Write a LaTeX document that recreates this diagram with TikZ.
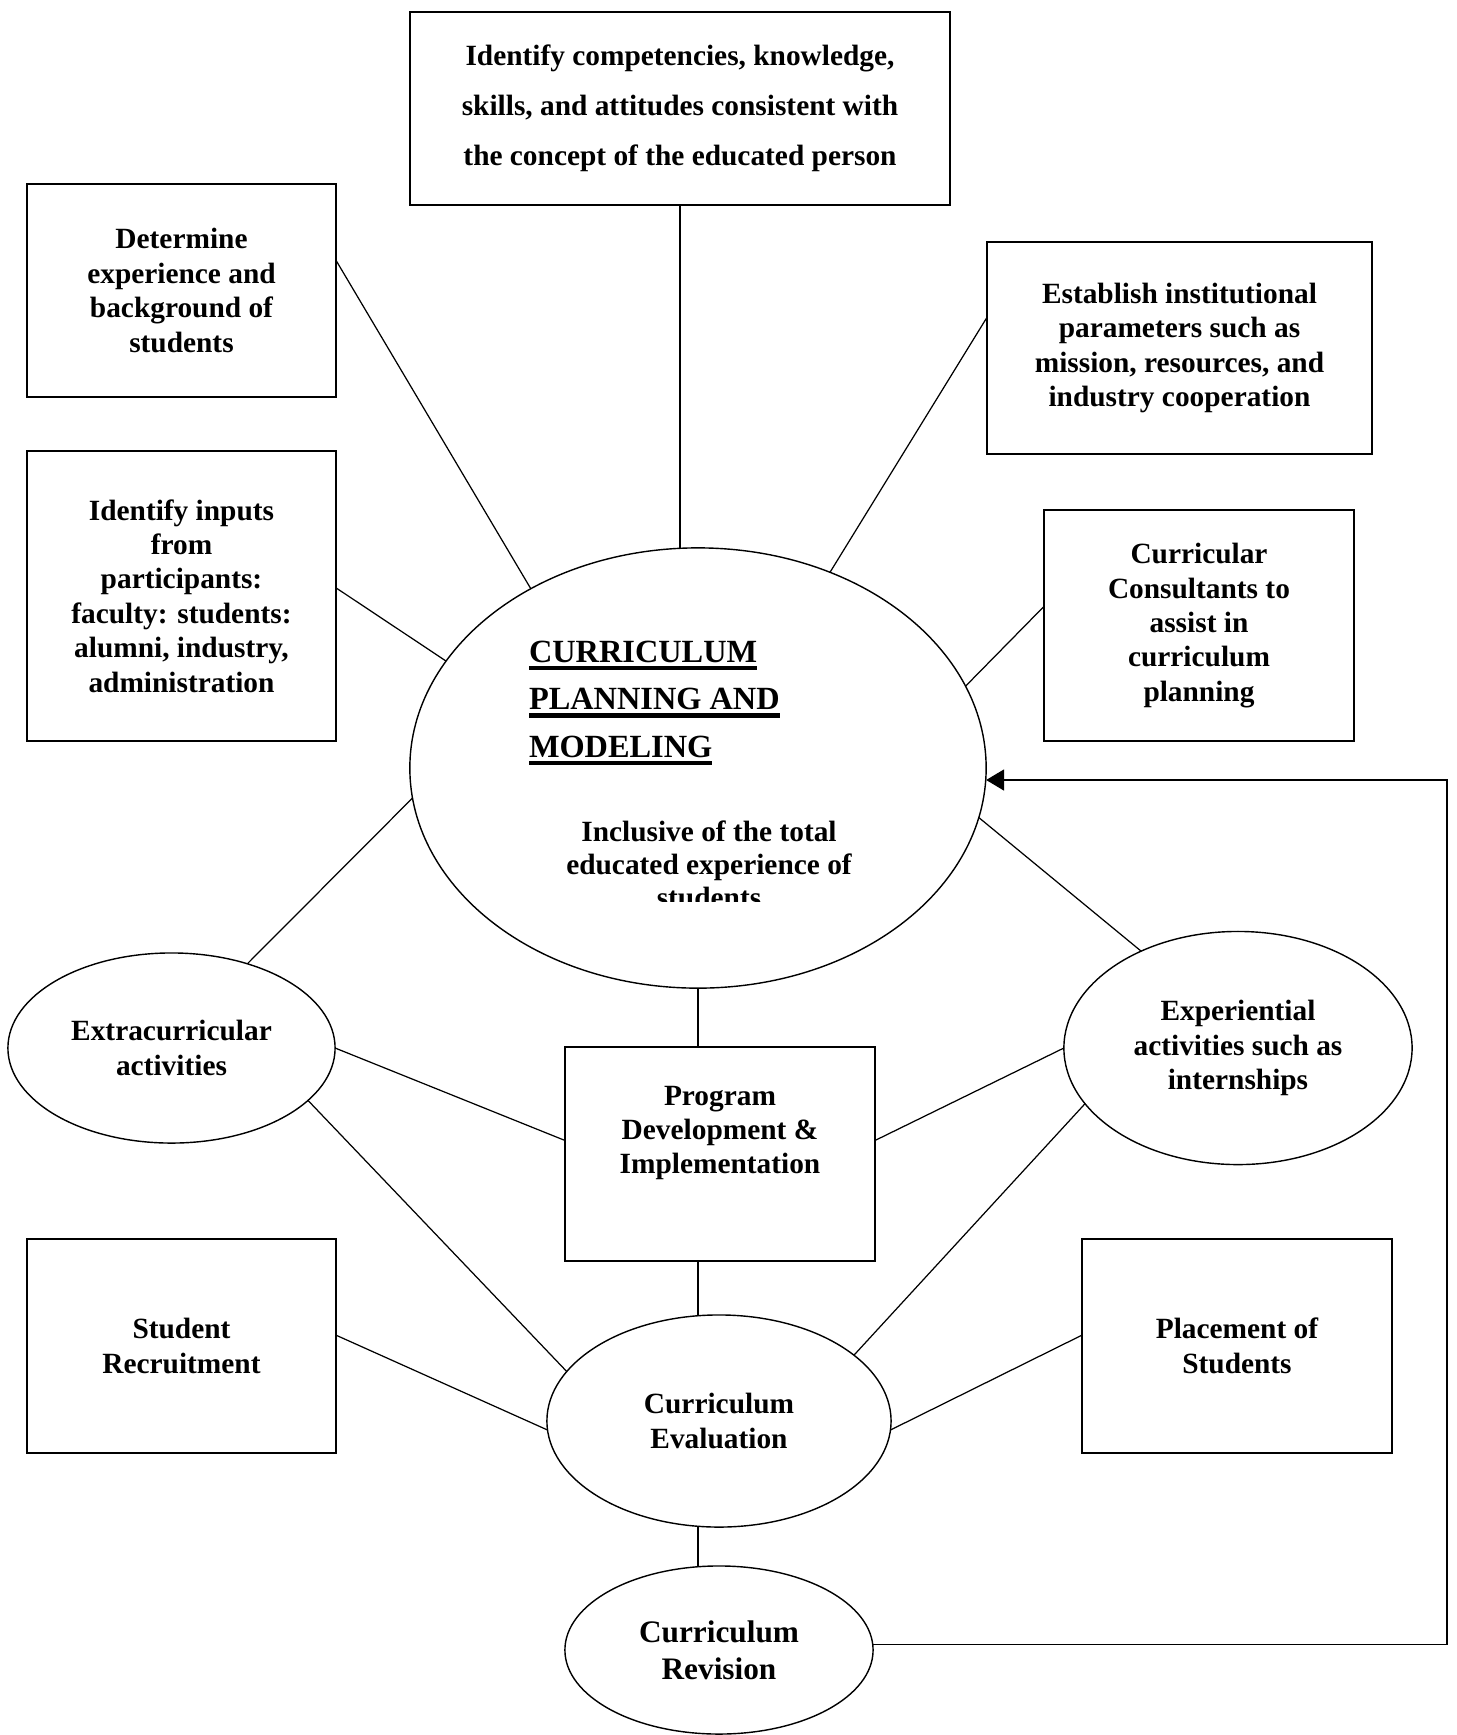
\documentclass[tikz,border=0pt]{standalone}
\usepackage{fontspec}
\setmainfont{Liberation Serif}
\usetikzlibrary{shapes.geometric,arrows.meta}

\newlength\ulwd
\newcommand\ultext[1]{\settowidth\ulwd{#1}\rlap{\rule[-2.2pt]{\ulwd}{1.2pt}}#1}

\begin{document}
\begin{tikzpicture}[x=0.01cm,y=-0.01cm,
    every node/.style={font=\bfseries\fontsize{8.35}{9.8}\selectfont,inner sep=0pt,outer sep=0pt,align=center},
    box/.style={rectangle,draw,line width=0.45pt},
    oval/.style={ellipse,draw,line width=0.4pt},
    link/.style={line width=0.35pt},
    arr/.style={line width=0.4pt,-{Triangle[length=5.1pt,width=6pt]}}]
  \useasboundingbox (0,0) rectangle (1457,1735);

  \node[box,minimum width=5.40cm,minimum height=1.93cm,font=\bfseries\fontsize{8.35}{14.2}\selectfont] (top) at (680,108.5)
    {Identify competencies, knowledge,\\skills, and attitudes consistent with\\the concept of the educated person};
  \node[box,minimum width=3.09cm,minimum height=2.13cm] (determ) at (181.5,290.5)
    {Determine\\experience and\\background of\\students};
  \node[box,minimum width=3.85cm,minimum height=2.12cm] (estab) at (1179.5,348)
    {Establish institutional\\parameters such as\\mission, resources, and\\industry cooperation};
  \node[box,minimum width=3.09cm,minimum height=2.90cm] (inputs) at (181.5,596)
    {Identify inputs\\from\\participants:\\faculty: students:\\alumni, industry,\\administration};
  \node[box,minimum width=3.10cm,minimum height=2.31cm] (consult) at (1199,625.5)
    {Curricular\\Consultants to\\assist in\\curriculum\\planning};

  \node[oval,minimum width=5.76cm,minimum height=4.40cm] (main) at (698,768) {};
  \node[anchor=north west,align=left,font=\bfseries\fontsize{9.2}{13.5}\selectfont] (title) at (529,641)
    {\ultext{CURRICULUM}\\\ultext{PLANNING AND}\\\ultext{MODELING}};
  \begin{scope}
    \clip (430,790) rectangle (960,901);
    \node[anchor=north,font=\bfseries\fontsize{8.35}{9.4}\selectfont] (incl) at (709,820.5)
      {Inclusive of the total\\educated experience of\\students};
  \end{scope}

  \node[oval,minimum width=3.27cm,minimum height=1.90cm] (extra) at (171.5,1048)
    {Extracurricular\\activities};
  \node[box,minimum width=3.10cm,minimum height=2.14cm] (prog) at (720,1154)
    {Program\\Development \&\\Implementation\\[1pt]\strut};
  \node[oval,minimum width=3.48cm,minimum height=2.33cm] (exper) at (1238,1048)
    {Experiential\\activities such as\\internships};
  \node[box,minimum width=3.09cm,minimum height=2.14cm] (recruit) at (181.5,1346)
    {Student\\Recruitment};
  \node[box,minimum width=3.10cm,minimum height=2.14cm] (place) at (1237,1346)
    {Placement of\\Students};
  \node[oval,minimum width=3.44cm,minimum height=2.12cm] (eval) at (719,1421)
    {Curriculum\\Evaluation};
  \node[oval,minimum width=3.08cm,minimum height=1.68cm,font=\bfseries\fontsize{8.9}{10.6}\selectfont] (revis) at (719,1650)
    {Curriculum\\Revision};
  \coordinate (turn) at (1447,780);

  \draw[link] (top.south) -- (top.south |- main.north);
  \draw[link] (determ.11) -- (main.133);
  \draw[link] (estab.171) -- (main.56);
  \draw[link] (inputs.3) -- (main.157);
  \draw[link] (consult.173) -- (main.17);
  \draw[link] (extra.48) -- (main.186);
  \draw[link] (exper.135) -- (main.-10);
  \draw[link] (main.south) -- (main.south |- prog.north);
  \draw[link] (extra.0) -- (prog.175);
  \draw[link] (exper.180) -- (prog.5);
  \draw[link] (prog.south -| main.south) -- (eval.north -| main.south);
  \draw[link] (extra.-21) -- (eval.162);
  \draw[link] (exper.200) -- (eval.26);
  \draw[link] (recruit.4) -- (eval.183);
  \draw[link] (place.176) -- (eval.-3);
  \draw[link] (eval.south -| main.south) -- (revis.north -| main.south);
  \draw[arr] (revis.2) -| (turn) -- (turn -| main.east);
\end{tikzpicture}
\end{document}
